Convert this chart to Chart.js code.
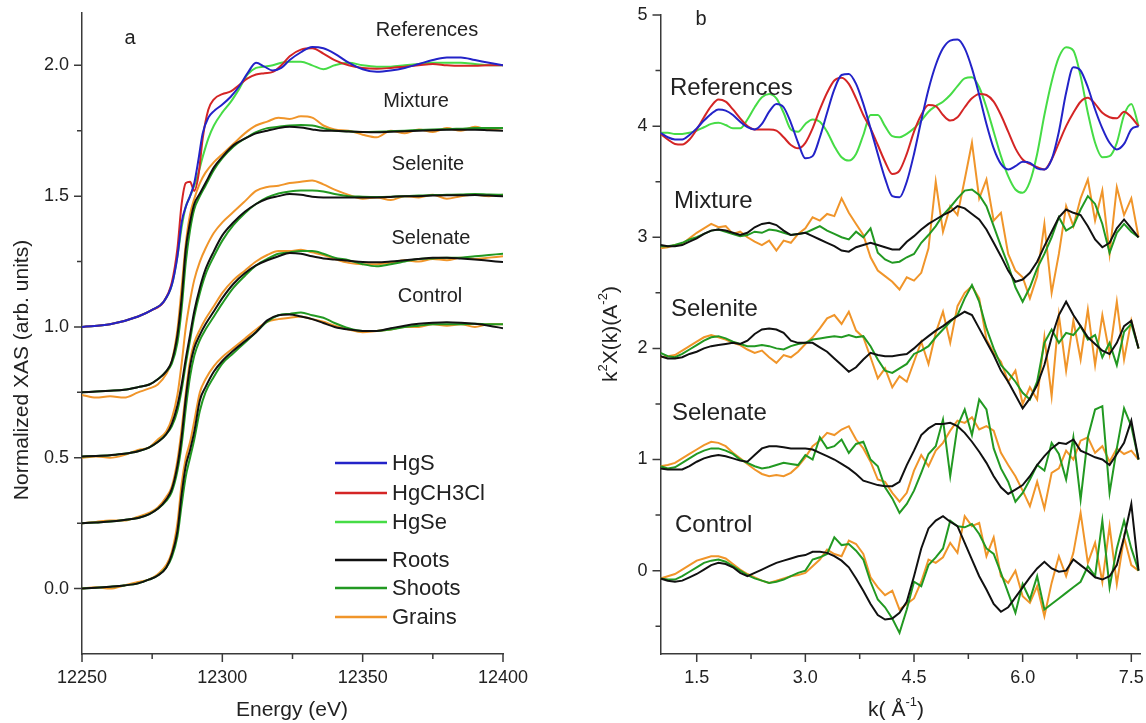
<!DOCTYPE html>
<html>
<head>
<meta charset="utf-8">
<script src="https://cdn.jsdelivr.net/npm/chart.js@4.4.1/dist/chart.umd.min.js"></script>
<style>
  html, body { margin: 0; padding: 0; background: #fff; }
  #wrap { position: relative; width: 1146px; height: 723px; }
  #wrap canvas { position: absolute; top: 0; }
</style>
</head>
<body>
<div id="wrap">
  <canvas id="chartA" width="573" height="723" style="left:0"></canvas>
  <canvas id="chartB" width="573" height="723" style="left:573px"></canvas>
</div>
<script>
// ---------- panel a : XANES ----------
const energyRef = [12250, 12260, 12270, 12275, 12279, 12282, 12284, 12285.5, 12287, 12288.5,
  12290, 12291.5, 12293, 12295, 12297, 12300, 12303, 12306, 12309, 12312,
  12315, 12318, 12321, 12324, 12328, 12332, 12336, 12340, 12345, 12350,
  12355, 12360, 12365, 12370, 12375, 12380, 12385, 12390, 12395, 12400];
const refHgS = [0, 0.01, 0.04, 0.065, 0.095, 0.16, 0.27, 0.4, 0.46, 0.5,
  0.55, 0.64, 0.74, 0.8, 0.825, 0.85, 0.88, 0.92, 0.97, 1.01,
  0.995, 0.98, 0.99, 1.02, 1.05, 1.07, 1.065, 1.045, 1.01, 0.985,
  0.975, 0.98, 0.99, 1.005, 1.02, 1.03, 1.03, 1.02, 1.01, 1.0];
const refHgCH3Cl = [0, 0.01, 0.04, 0.065, 0.095, 0.17, 0.3, 0.47, 0.55, 0.555,
  0.52, 0.58, 0.72, 0.83, 0.87, 0.89, 0.9, 0.925, 0.95, 0.965,
  0.97, 0.975, 1.0, 1.035, 1.06, 1.065, 1.045, 1.02, 1.0, 0.99,
  0.987, 0.99, 0.995, 1.0, 1.005, 1.0, 0.998, 0.998, 1.0, 1.0];
const refHgSe = [0, 0.01, 0.04, 0.065, 0.095, 0.16, 0.27, 0.38, 0.46, 0.5,
  0.54, 0.59, 0.65, 0.72, 0.77, 0.82, 0.86, 0.91, 0.965, 0.99,
  0.995, 1.0, 1.01, 1.014, 1.014, 1.0, 0.985, 1.0, 1.01, 1.0,
  0.995, 0.995, 1.0, 1.005, 1.01, 1.01, 1.01, 1.005, 1.0, 1.0];

const energy = [12250, 12255, 12260, 12265, 12270, 12274, 12277, 12280, 12282, 12284,
  12285.5, 12287, 12288.5, 12290, 12292, 12294, 12297, 12300, 12304, 12308,
  12312, 12316, 12320, 12324, 12328, 12332, 12336, 12340, 12345, 12350,
  12355, 12360, 12365, 12370, 12375, 12380, 12385, 12390, 12395, 12400];
const mixRoots = [0, 0.003, 0.006, 0.01, 0.02, 0.03, 0.05, 0.08, 0.12, 0.22,
  0.36, 0.55, 0.65, 0.72, 0.76, 0.8, 0.86, 0.9, 0.945, 0.97,
  0.99, 1.0, 1.01, 1.015, 1.012, 1.005, 1.0, 1.0, 0.997, 0.995,
  0.994, 0.996, 0.998, 1.0, 1.002, 1.004, 1.004, 1.004, 1.002, 1.0];
const mixShoots = [0, 0.003, 0.006, 0.01, 0.02, 0.03, 0.05, 0.08, 0.11, 0.19,
  0.32, 0.5, 0.62, 0.7, 0.75, 0.79, 0.85, 0.895, 0.94, 0.97,
  0.995, 1.01, 1.015, 1.02, 1.022, 1.02, 1.01, 1.0, 0.998, 0.995,
  0.996, 0.998, 1.0, 1.003, 1.005, 1.006, 1.008, 1.01, 1.01, 1.01];
const mixGrains = [-0.01, -0.02, -0.015, -0.02, 0.0, 0.015, 0.03, 0.07, 0.12, 0.24,
  0.4, 0.57, 0.68, 0.74, 0.8, 0.84, 0.88, 0.91, 0.95, 0.99,
  1.02, 1.035, 1.05, 1.045, 1.055, 1.05, 1.02, 1.005, 1.0, 0.985,
  0.975, 1.0, 0.99, 1.005, 0.995, 1.01, 1.0, 1.015, 1.005, 1.01];
const seleniteRoots = [0.005, 0.007, 0.01, 0.015, 0.025, 0.04, 0.06, 0.09, 0.13, 0.2,
  0.28, 0.38, 0.47, 0.56, 0.65, 0.72, 0.79, 0.85, 0.9, 0.94,
  0.97, 0.99, 1.0, 1.008, 1.005, 0.998, 0.995, 0.995, 0.995, 0.995,
  0.995, 0.997, 1.0, 1.0, 1.002, 1.003, 1.003, 1.004, 1.002, 1.0];
const seleniteShoots = [0.005, 0.007, 0.01, 0.015, 0.025, 0.04, 0.06, 0.09, 0.12, 0.18,
  0.26, 0.36, 0.45, 0.54, 0.63, 0.7, 0.77, 0.83, 0.89, 0.935,
  0.97, 0.995, 1.01, 1.018, 1.022, 1.022, 1.018, 1.008, 1.0, 0.998,
  0.997, 0.998, 1.0, 1.002, 1.004, 1.005, 1.006, 1.008, 1.006, 1.005];
const seleniteGrains = [0.0, 0.005, 0.0, 0.01, 0.03, 0.04, 0.07, 0.1, 0.15, 0.24,
  0.36, 0.5, 0.6, 0.68, 0.75, 0.8, 0.86, 0.9, 0.94, 0.98,
  1.02, 1.035, 1.04, 1.05, 1.055, 1.06, 1.045, 1.025, 1.005, 0.99,
  0.995, 0.985, 1.0, 0.995, 1.005, 0.99, 1.0, 1.005, 1.0, 1.005];
const selenateRoots = [0, 0.003, 0.006, 0.012, 0.02, 0.035, 0.055, 0.09, 0.13, 0.22,
  0.33, 0.48, 0.6, 0.67, 0.72, 0.76, 0.81, 0.86, 0.915, 0.955,
  0.985, 1.005, 1.02, 1.033, 1.03, 1.02, 1.012, 1.008, 1.003, 0.998,
  0.997, 1.0, 1.005, 1.01, 1.015, 1.015, 1.012, 1.008, 1.003, 0.998];
const selenateShoots = [0, 0.003, 0.006, 0.012, 0.02, 0.035, 0.055, 0.085, 0.12, 0.2,
  0.3, 0.44, 0.56, 0.64, 0.7, 0.74, 0.79, 0.84, 0.9, 0.945,
  0.985, 1.01, 1.03, 1.035, 1.04, 1.04, 1.03, 1.015, 1.005, 0.99,
  0.982, 0.99, 1.0, 1.01, 1.012, 1.015, 1.015, 1.02, 1.025, 1.03];
const selenateGrains = [0.0, 0.005, 0.01, 0.01, 0.025, 0.04, 0.06, 0.1, 0.14, 0.24,
  0.36, 0.5, 0.62, 0.69, 0.74, 0.78, 0.83, 0.88, 0.93, 0.965,
  1.0, 1.025, 1.04, 1.04, 1.045, 1.035, 1.025, 1.01, 0.995, 0.99,
  0.99, 0.995, 1.005, 1.0, 1.01, 1.005, 1.015, 1.01, 1.015, 1.02];
const controlRoots = [0, 0.003, 0.007, 0.012, 0.02, 0.035, 0.05, 0.08, 0.13, 0.22,
  0.36, 0.47, 0.53, 0.6, 0.72, 0.77, 0.83, 0.87, 0.91, 0.945,
  0.98, 1.025, 1.045, 1.048, 1.04, 1.03, 1.015, 1.0, 0.99, 0.985,
  0.985, 0.995, 1.005, 1.012, 1.016, 1.018, 1.016, 1.012, 1.005, 0.995];
const controlShoots = [0, 0.003, 0.007, 0.012, 0.02, 0.035, 0.05, 0.08, 0.12, 0.2,
  0.32, 0.43, 0.5, 0.57, 0.68, 0.75, 0.81, 0.86, 0.9, 0.94,
  0.98, 1.02, 1.045, 1.05, 1.055, 1.045, 1.035, 1.015, 0.995, 0.985,
  0.985, 0.99, 1.0, 1.005, 1.01, 1.01, 1.01, 1.012, 1.01, 1.01];
const controlGrains = [0.0, 0.005, 0.0, 0.012, 0.025, 0.035, 0.055, 0.09, 0.14, 0.25,
  0.4, 0.5, 0.56, 0.64, 0.75, 0.8, 0.85, 0.885, 0.92, 0.955,
  0.99, 1.02, 1.03, 1.035, 1.04, 1.03, 1.02, 1.005, 0.99, 0.98,
  0.985, 0.99, 1.0, 1.0, 1.01, 1.005, 1.01, 1.0, 1.01, 1.01];
const offsetsA = [1.0, 0.75, 0.5, 0.25, 0];
const xTicksA = [12250, 12300, 12350, 12400];
const xMinorA = [12275, 12325, 12375];
const yTicksA = [0, 0.5, 1.0, 1.5, 2.0];
const yMinorA = [0.25, 0.75, 1.25, 1.75];

// ---------- panel b : EXAFS ----------
const kGrid = [1.0, 1.1, 1.2, 1.3, 1.4, 1.5, 1.6, 1.7, 1.8, 1.9,
  2.0, 2.1, 2.2, 2.3, 2.4, 2.5, 2.6, 2.7, 2.8, 2.9,
  3.0, 3.1, 3.2, 3.3, 3.4, 3.5, 3.6, 3.7, 3.8, 3.9,
  4.0, 4.1, 4.2, 4.3, 4.4, 4.5, 4.6, 4.7, 4.8, 4.9,
  5.0, 5.1, 5.2, 5.3, 5.4, 5.5, 5.6, 5.7, 5.8, 5.9,
  6.0, 6.1, 6.2, 6.3, 6.4, 6.5, 6.6, 6.7, 6.8, 6.9,
  7.0, 7.1, 7.2, 7.3, 7.4, 7.5, 7.6];
const refHgSK = [-0.06, -0.1, -0.12, -0.12, -0.08, -0.02, 0.05, 0.11, 0.15, 0.14,
  0.1, 0.04, -0.01, -0.03, 0.02, 0.13, 0.2, 0.17, 0.03, -0.15,
  -0.29, -0.27, -0.1, 0.12, 0.33, 0.46, 0.47, 0.38, 0.2, -0.02,
  -0.25, -0.47, -0.63, -0.64, -0.5, -0.25, 0.05, 0.33, 0.55, 0.7,
  0.77, 0.78, 0.7, 0.52, 0.28, 0.02, -0.2, -0.34, -0.39, -0.36,
  -0.32, -0.33, -0.38, -0.39, -0.3, -0.05, 0.3, 0.53, 0.5, 0.35,
  0.15, -0.02, -0.15, -0.21, -0.16, -0.03, 0.0];
const refHgCH3ClK = [-0.07, -0.12, -0.16, -0.165, -0.12, -0.03, 0.08, 0.18, 0.24, 0.22,
  0.15, 0.07, 0.0, -0.03, -0.03, -0.03, -0.04, -0.1, -0.17, -0.2,
  -0.15, -0.02, 0.15, 0.3, 0.41, 0.435, 0.38, 0.25, 0.1, -0.02,
  -0.17, -0.32, -0.43, -0.4, -0.25, -0.05, 0.1, 0.19, 0.18, 0.1,
  0.05, 0.08, 0.17, 0.25, 0.29, 0.28, 0.22, 0.1, -0.05, -0.2,
  -0.3, -0.34, -0.37, -0.39, -0.3, -0.15, 0.0, 0.12, 0.22, 0.255,
  0.2, 0.12, 0.08, 0.07, 0.13, 0.08, 0.0];
const refHgSeK = [-0.06, -0.06, -0.07, -0.07, -0.06, -0.04, -0.01, 0.02, 0.03, 0.01,
  -0.02, -0.02, 0.06, 0.17, 0.26, 0.29, 0.25, 0.12, -0.03, -0.05,
  0.02, 0.06, 0.04, -0.05, -0.18, -0.28, -0.31, -0.25, -0.08, 0.1,
  0.1, 0.0, -0.09, -0.1, -0.07, -0.02, 0.05, 0.13, 0.18, 0.22,
  0.28, 0.36, 0.43, 0.44, 0.35, 0.17, -0.05, -0.27, -0.45, -0.57,
  -0.6, -0.5, -0.25, 0.1, 0.4, 0.62, 0.71, 0.68, 0.45, 0.12,
  -0.15, -0.28, -0.27, -0.15, 0.1, 0.2, 0.0];
const mixRootsK = [-0.07, -0.08, -0.08, -0.07, -0.04, -0.01, 0.03, 0.06, 0.07, 0.06,
  0.04, 0.02, 0.04, 0.09, 0.12, 0.13, 0.11, 0.06, 0.02, 0.03,
  0.04, 0.01, -0.02, -0.05, -0.08, -0.12, -0.13, -0.09, -0.07, -0.05,
  -0.07, -0.09, -0.11, -0.11, -0.04, 0.01, 0.07, 0.12, 0.16, 0.2,
  0.23, 0.28, 0.26, 0.21, 0.16, 0.07, -0.05, -0.17, -0.3, -0.4,
  -0.38, -0.32, -0.22, -0.08, 0.05, 0.18, 0.25, 0.22, 0.2, 0.1,
  -0.02, -0.09, -0.05, 0.08, 0.16, 0.08, 0.0];
const mixShootsK = [-0.08, -0.08, -0.07, -0.05, -0.02, 0.0, 0.03, 0.06, 0.07, 0.05,
  0.03, 0.01, 0.02, 0.05, 0.04, 0.07, 0.06, 0.04, 0.02, 0.03,
  0.04, 0.07, 0.1, 0.06, 0.03, 0.0, -0.02, 0.05, 0.0, 0.08,
  -0.14, -0.2, -0.23, -0.22, -0.18, -0.15, -0.05, 0.02, 0.1, 0.2,
  0.27, 0.35, 0.42, 0.43, 0.38, 0.28, 0.1, -0.08, -0.25, -0.45,
  -0.58, -0.45, -0.28, -0.15, 0.0, 0.18, 0.06, 0.1, 0.25, 0.37,
  0.3, 0.12, -0.14, 0.04, 0.12, 0.05, 0.0];
const mixGrainsK = [-0.1, -0.09, -0.07, -0.06, -0.01, 0.04, 0.08, 0.12, 0.09, 0.1,
  0.03, 0.05, 0.0, -0.04, -0.07, -0.03, -0.12, -0.03, -0.05, 0.03,
  0.08, 0.18, 0.15, 0.21, 0.19, 0.35, 0.22, 0.12, 0.02, -0.18,
  -0.3, -0.35, -0.4, -0.47, -0.36, -0.39, -0.32, -0.1, 0.5, 0.05,
  0.28, 0.2, 0.52, 0.85, 0.35, 0.52, 0.15, 0.22, -0.15, -0.3,
  -0.36, -0.55, -0.35, 0.12, -0.5, -0.15, 0.28, 0.1, 0.35, 0.52,
  0.15, 0.42, -0.15, 0.45, 0.2, 0.35, 0.0];
const seleniteRootsK = [-0.07, -0.09, -0.09, -0.08, -0.05, -0.03, 0.0, 0.02, 0.03, 0.04,
  0.05, 0.04, 0.07, 0.13, 0.17, 0.18, 0.17, 0.14, 0.07, 0.05,
  0.05, 0.05, 0.01, -0.03, -0.09, -0.15, -0.21, -0.17, -0.1, -0.04,
  -0.06, -0.07, -0.07, -0.06, -0.05, 0.0, 0.06, 0.11, 0.16, 0.2,
  0.25, 0.29, 0.33, 0.3, 0.18, 0.06, -0.06, -0.2, -0.3, -0.42,
  -0.54, -0.45, -0.33, -0.15, 0.1, 0.3, 0.42, 0.3, 0.2, 0.1,
  0.04, -0.02, -0.05, 0.05, 0.2, 0.25, 0.0];
const seleniteShootsK = [-0.04, -0.07, -0.08, -0.05, -0.01, 0.03, 0.07, 0.1, 0.11, 0.09,
  0.06, 0.04, 0.02, 0.02, 0.03, 0.02, 0.0, -0.01, 0.02, 0.04,
  0.05, 0.08, 0.09, 0.1, 0.11, 0.1, 0.12, 0.1, 0.11, 0.02,
  -0.1, -0.2, -0.22, -0.18, -0.14, -0.05, -0.02, 0.02, 0.1, 0.17,
  0.24, 0.3, 0.45, 0.57, 0.42, 0.18, 0.0, -0.15, -0.22, -0.3,
  -0.4, -0.46, -0.3, 0.05, 0.17, 0.05, 0.14, 0.12, 0.2, 0.08,
  0.12, -0.08, 0.05, -0.15, 0.15, 0.22, 0.0];
const seleniteGrainsK = [-0.08, -0.07, -0.06, -0.02, 0.02, 0.06, 0.1, 0.12, 0.1, 0.08,
  0.05, 0.03, -0.01, -0.04, -0.02, -0.08, -0.13, -0.06, -0.08, -0.03,
  0.04, 0.1, 0.18, 0.27, 0.3, 0.22, 0.33, 0.16, 0.1, -0.08,
  -0.27, -0.18, -0.35, -0.25, -0.3, -0.12, 0.06, -0.14, 0.14, 0.33,
  0.05, 0.38, 0.5, 0.56, 0.45, 0.08, -0.04, -0.12, -0.3, -0.2,
  -0.5, -0.35, -0.46, 0.1, -0.43, 0.3, -0.2, 0.25, -0.1, 0.35,
  -0.15, 0.3, -0.05, 0.42, -0.1, 0.25, 0.0];
const selenateRootsK = [-0.08, -0.09, -0.09, -0.09, -0.06, -0.02, 0.01, 0.03, 0.04, 0.03,
  0.01, -0.01, -0.02, 0.04, 0.1, 0.12, 0.12, 0.11, 0.1, 0.1,
  0.1, 0.09, 0.06, 0.03, 0.0, -0.04, -0.08, -0.13, -0.19, -0.21,
  -0.23, -0.24, -0.24, -0.2, -0.05, 0.08, 0.22, 0.28, 0.32, 0.32,
  0.33, 0.3, 0.24, 0.16, 0.07, -0.03, -0.15, -0.25, -0.31, -0.27,
  -0.23, -0.15, -0.05, 0.03, 0.1, 0.15, 0.14, 0.18, 0.08, 0.05,
  0.02, 0.0, -0.05, 0.05, 0.15, 0.35, 0.0];
const selenateShootsK = [-0.06, -0.08, -0.07, -0.03, 0.01, 0.05, 0.08, 0.1, 0.1, 0.08,
  0.05, 0.0, -0.03, -0.06, -0.08, -0.07, -0.05, -0.03, -0.04, -0.05,
  0.04, 0.0, 0.2, 0.1, 0.12, 0.18, 0.06, 0.14, 0.16, 0.0,
  -0.06, -0.25, -0.35, -0.48, -0.4, -0.28, -0.12, 0.05, 0.12, 0.36,
  -0.15, 0.3, 0.45, 0.22, 0.54, 0.45, 0.1, -0.08, -0.2, -0.38,
  -0.3, -0.18, -0.05, -0.1, 0.15, 0.05, -0.18, 0.2, -0.36, 0.2,
  0.45, 0.48, -0.3, 0.1, 0.46, 0.3, 0.0];
const selenateGrainsK = [-0.06, -0.05, -0.03, 0.01, 0.05, 0.09, 0.13, 0.16, 0.15, 0.12,
  0.06, 0.01, -0.04, -0.09, -0.13, -0.15, -0.14, -0.15, -0.12, -0.06,
  0.02, 0.12, 0.17, 0.24, 0.22, 0.27, 0.3, 0.18, 0.1, -0.02,
  -0.18, -0.2, -0.3, -0.38, -0.3, -0.1, 0.04, -0.06, 0.08, 0.15,
  0.26, 0.35, 0.33, 0.38, 0.27, 0.3, 0.26, 0.06, -0.05, -0.15,
  -0.28, -0.42, -0.2, -0.44, -0.12, -0.08, 0.08, 0.0, 0.17, 0.2,
  0.06, 0.12, -0.02, 0.1, 0.05, 0.08, 0.0];
const controlRootsK = [-0.07, -0.09, -0.1, -0.09, -0.06, -0.03, 0.01, 0.05, 0.07, 0.06,
  0.03, -0.02, -0.05, -0.02, 0.01, 0.04, 0.07, 0.09, 0.11, 0.13,
  0.14, 0.17, 0.17, 0.16, 0.13, 0.09, 0.03, -0.07, -0.18, -0.3,
  -0.4, -0.44, -0.43, -0.38, -0.28, -0.05, 0.2, 0.38, 0.45, 0.49,
  0.44, 0.4, 0.25, 0.1, -0.05, -0.17, -0.3, -0.37, -0.33, -0.24,
  -0.15, -0.06, 0.02, 0.08, 0.02, -0.01, 0.0, 0.1, 0.05, 0.0,
  -0.06, -0.08, -0.05, 0.05, 0.3, 0.6, 0.0];
const controlShootsK = [-0.07, -0.08, -0.08, -0.05, -0.01, 0.03, 0.07, 0.09, 0.1, 0.08,
  0.04, 0.0, -0.04, -0.07, -0.09, -0.11, -0.1, -0.08, -0.05, -0.02,
  0.0, 0.1, 0.12, 0.15, 0.3, 0.23, 0.24, 0.18, 0.1, -0.1,
  -0.26, -0.33, -0.43, -0.56, -0.35, -0.1, -0.14, 0.05, 0.12, 0.2,
  0.45, 0.4, 0.39, 0.42, 0.33, 0.2, 0.15, -0.02, -0.2, -0.38,
  -0.12, -0.26, -0.05, -0.35, -0.3, -0.25, -0.2, -0.15, -0.1, 0.04,
  -0.05, 0.45, -0.15, 0.2, 0.45, 0.2, 0.0];
const controlGrainsK = [-0.07, -0.05, -0.03, 0.01, 0.05, 0.09, 0.11, 0.13, 0.13, 0.11,
  0.06, 0.01, -0.03, -0.06, -0.09, -0.11, -0.09, -0.07, -0.05, -0.04,
  -0.02, 0.04, 0.1, 0.19, 0.15, 0.13, 0.27, 0.24, 0.15, -0.06,
  -0.15, -0.22, -0.18, -0.35, -0.3, -0.25, -0.1, 0.1, 0.07, 0.12,
  0.25, 0.16, 0.49, 0.4, 0.43, 0.13, 0.3, -0.05, -0.11, 0.0,
  -0.23, -0.29, -0.14, -0.41, -0.11, 0.13, -0.05, 0.16, 0.52, 0.07,
  0.25, -0.1, 0.4, -0.12, 0.3, 0.05, 0.0];
const offsetsB = [4, 3, 2, 1, 0];
const xTicksB = [1.5, 3.0, 4.5, 6.0, 7.5];
const xMinorB = [2.25, 3.75, 5.25, 6.75];
const yTicksB = [0, 1, 2, 3, 4, 5];
const yMinorB = [-0.5, 0.5, 1.5, 2.5, 3.5, 4.5];

const groupNames = ['References', 'Mixture', 'Selenite', 'Selenate', 'Control'];
const refNames = ['HgS', 'HgCH3Cl', 'HgSe'];
const partNames = ['Roots', 'Shoots', 'Grains'];

// ---------- styling ----------
const FONT = '"Liberation Sans", Arial, Helvetica, sans-serif';
const axisColor = '#3a3a3a';
const textColor = '#222222';
const refColors = ['#2323c8', '#d42525', '#46dc46'];
const partColors = ['#111111', '#229922', '#f0952a'];

function pts(xs, ys, off) {
  return xs.map((x, i) => ({ x: x, y: ys[i] + off }));
}

function buildSets(refX, refs, xs, groups, offsets, smooth) {
  const sets = [];
  // references: HgS drawn on top, HgSe at the bottom
  refs.forEach((r, i) => {
    sets.push({
      label: refNames[i], data: pts(refX, r, offsets[0]),
      borderColor: refColors[i], borderWidth: 2, order: 100 + i,
      cubicInterpolationMode: 'monotone'
    });
  });
  groups.forEach((g, gi) => {
    g.forEach((s, pi) => {
      const d = {
        label: groupNames[gi + 1] + ' ' + partNames[pi], data: pts(xs, s, offsets[gi + 1]),
        borderColor: partColors[pi], borderWidth: 2, order: 10 * pi + gi
      };
      if (smooth) d.cubicInterpolationMode = 'monotone';
      else d.tension = 0;
      sets.push(d);
    });
  });
  return sets;
}

// draws text with superscript parts, centred on (0,0) of the current transform
function richText(ctx, segs, size) {
  const big = size + 'px ' + FONT, small = Math.round(size * 0.62) + 'px ' + FONT;
  let w = 0;
  segs.forEach(s => { ctx.font = s.sup ? small : big; w += ctx.measureText(s.t).width; });
  let x = -w / 2;
  ctx.textAlign = 'left';
  segs.forEach(s => {
    ctx.font = s.sup ? small : big;
    ctx.fillText(s.t, x, s.sup ? -size * 0.38 : 0);
    x += ctx.measureText(s.t).width;
  });
}

const decor = {
  id: 'decor',
  afterDraw(chart, args, o) {
    const { ctx, chartArea: ca, scales: { x, y } } = chart;
    ctx.save();
    ctx.strokeStyle = axisColor;
    ctx.lineWidth = 1.5;
    ctx.beginPath();
    o.xMajor.forEach(v => { const p = x.getPixelForValue(v); ctx.moveTo(p, ca.bottom); ctx.lineTo(p, ca.bottom + 8); });
    o.xMinor.forEach(v => { const p = x.getPixelForValue(v); ctx.moveTo(p, ca.bottom); ctx.lineTo(p, ca.bottom + 5); });
    o.yMajor.forEach(v => { const p = y.getPixelForValue(v); ctx.moveTo(ca.left, p); ctx.lineTo(ca.left - 8, p); });
    o.yMinor.forEach(v => { const p = y.getPixelForValue(v); ctx.moveTo(ca.left, p); ctx.lineTo(ca.left - 5, p); });
    ctx.stroke();

    ctx.fillStyle = textColor;
    ctx.textBaseline = 'middle';
    // axis titles
    ctx.save();
    ctx.translate(o.xTitlePos[0], o.xTitlePos[1]);
    richText(ctx, o.xTitle, o.titleSize);
    ctx.restore();
    ctx.save();
    ctx.translate(o.yTitlePos[0], o.yTitlePos[1]);
    ctx.rotate(-Math.PI / 2);
    richText(ctx, o.yTitle, o.titleSize);
    ctx.restore();
    // panel letter
    ctx.font = '20px ' + FONT;
    ctx.textAlign = 'center';
    ctx.fillText(o.letter, o.letterPos[0], o.letterPos[1]);
    // group labels
    ctx.font = o.groupSize + 'px ' + FONT;
    ctx.textAlign = o.groupAlign;
    groupNames.forEach((n, i) => ctx.fillText(n, o.groupPos[i][0], o.groupPos[i][1]));
    // legend
    if (o.legend) {
      const lg = o.legend;
      const items = refNames.map((n, i) => [n, refColors[i]]).concat(partNames.map((n, i) => [n, partColors[i]]));
      ctx.font = lg.size + 'px ' + FONT;
      ctx.textAlign = 'left';
      ctx.lineWidth = 2.5;
      items.forEach((it, i) => {
        const yy = lg.rows[i];
        ctx.strokeStyle = it[1];
        ctx.beginPath(); ctx.moveTo(lg.x0, yy); ctx.lineTo(lg.x1, yy); ctx.stroke();
        ctx.fillStyle = textColor;
        ctx.fillText(it[0], lg.tx, yy + 1);
      });
    }
    ctx.restore();
  }
};

function axisOpts(min, max, tickVals, fmt, fitSize, horizontal) {
  return {
    type: 'linear', min: min, max: max,
    grid: { display: false, drawTicks: true, tickLength: 10 },
    border: { display: true, color: axisColor, width: 1.5 },
    ticks: {
      color: textColor, padding: 3, font: { family: FONT, size: 18 },
      maxRotation: 0, autoSkip: false, callback: v => fmt(v)
    },
    afterBuildTicks: s => { s.ticks = tickVals.map(v => ({ value: v })); },
    afterFit: s => {
      if (horizontal) { s.height = fitSize; s.paddingLeft = 0; s.paddingRight = 0; }
      else { s.width = fitSize; s.paddingTop = 0; s.paddingBottom = 0; }
    }
  };
}

Chart.defaults.font.family = FONT;

new Chart(document.getElementById('chartA'), {
  type: 'line',
  data: {
    datasets: buildSets(energyRef, [refHgS, refHgCH3Cl, refHgSe], energy, [
      [mixRoots, mixShoots, mixGrains],
      [seleniteRoots, seleniteShoots, seleniteGrains],
      [selenateRoots, selenateShoots, selenateGrains],
      [controlRoots, controlShoots, controlGrains]
    ], offsetsA, true)
  },
  options: {
    responsive: false, animation: false, events: [],
    layout: { padding: { left: 0, right: 70, top: 13, bottom: 0 } },
    elements: { point: { radius: 0 } },
    plugins: {
      legend: { display: false }, tooltip: { enabled: false },
      decor: {
        xMajor: xTicksA, xMinor: xMinorA, yMajor: yTicksA, yMinor: yMinorA,
        xTitle: [{ t: 'Energy (eV)' }], xTitlePos: [292, 710],
        yTitle: [{ t: 'Normalized XAS (arb. units)' }], yTitlePos: [22, 370],
        titleSize: 21,
        letter: 'a', letterPos: [130, 38],
        groupSize: 20, groupAlign: 'center',
        groupPos: [[427, 30], [416, 101], [428, 164], [431, 238], [430, 296]],
        legend: { x0: 335, x1: 387, tx: 392, size: 22, rows: [463, 493, 522, 560, 588, 617] }
      }
    },
    scales: {
      x: axisOpts(12250, 12400, xTicksA, v => String(v), 69, true),
      y: axisOpts(-0.25, 2.2, yTicksA, v => v.toFixed(1), 82, false)
    }
  },
  plugins: [decor]
});

new Chart(document.getElementById('chartB'), {
  type: 'line',
  data: {
    datasets: buildSets(kGrid, [refHgSK, refHgCH3ClK, refHgSeK], kGrid, [
      [mixRootsK, mixShootsK, mixGrainsK],
      [seleniteRootsK, seleniteShootsK, seleniteGrainsK],
      [selenateRootsK, selenateShootsK, selenateGrainsK],
      [controlRootsK, controlShootsK, controlGrainsK]
    ], offsetsB, false)
  },
  options: {
    responsive: false, animation: false, events: [],
    layout: { padding: { left: 0, right: 6, top: 15, bottom: 0 } },
    elements: { point: { radius: 0 } },
    plugins: {
      legend: { display: false }, tooltip: { enabled: false },
      decor: {
        xMajor: xTicksB, xMinor: xMinorB, yMajor: yTicksB, yMinor: yMinorB,
        xTitle: [{ t: 'k( Å' }, { t: '-1', sup: true }, { t: ')' }], xTitlePos: [323, 710],
        yTitle: [{ t: 'k' }, { t: '2', sup: true }, { t: 'X(k)(A' }, { t: '-2', sup: true }, { t: ')' }],
        yTitlePos: [38, 334],
        titleSize: 21,
        letter: 'b', letterPos: [128, 19],
        groupSize: 24, groupAlign: 'left',
        groupPos: [[97, 88], [101, 201], [98, 309], [99, 413], [102, 525]],
        legend: null
      }
    },
    scales: {
      x: axisOpts(1.0, 7.62, xTicksB, v => v.toFixed(1), 69, true),
      y: axisOpts(-0.75, 5, yTicksB, v => String(v), 87.5, false)
    }
  },
  plugins: [decor]
});
</script>
</body>
</html>
